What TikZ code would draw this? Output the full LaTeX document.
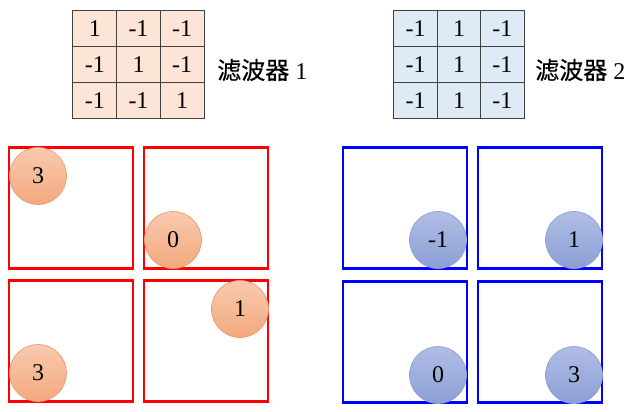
\documentclass[tikz,border=0pt]{standalone}
\usepackage{fontspec}
\setmainfont{Liberation Serif}
\newfontfamily\cjk[FakeBold=0.6]{Noto Sans CJK SC}
\definecolor{gridline}{HTML}{404040}
\definecolor{peach}{HTML}{FCE4D6}
\definecolor{ltblue}{HTML}{DEEBF7}
\definecolor{rtop}{HTML}{F8CAAE}
\definecolor{rbot}{HTML}{F3A97E}
\definecolor{rbord}{HTML}{E59A75}
\definecolor{btop}{HTML}{B0BEE4}
\definecolor{bbot}{HTML}{8C9FD6}
\definecolor{bbord}{HTML}{8FA1D2}
\tikzset{
  cell/.style={draw=gridline, line width=0.75pt, minimum width=32.75pt, minimum height=27.25pt, inner sep=0pt, font=\fontsize{18}{21}\selectfont},
  cellA/.style={cell, fill=peach},
  cellB/.style={cell, fill=ltblue},
  redbox/.style={draw=red, line width=2pt, minimum width=93pt, minimum height=90.75pt, inner sep=0pt},
  bluebox/.style={draw=blue, line width=2pt, minimum width=93pt, minimum height=90.75pt, inner sep=0pt},
  dot/.style={circle, minimum size=42.75pt, inner sep=0pt, line width=0.5pt, font=\fontsize{18}{21}\selectfont},
  reddot/.style={dot, draw=rbord, top color=rtop, bottom color=rbot},
  bluedot/.style={dot, draw=bbord, top color=btop, bottom color=bbot},
  lbl/.style={anchor=west, inner sep=0pt, font=\fontsize{18}{21}\selectfont}
}
\begin{document}
\begin{tikzpicture}[x=0.75pt, y=-0.75pt]
\useasboundingbox (0,0) rectangle (630,411);
% filter 1
\foreach \v [count=\i from 0] in {1,-1,-1,-1,1,-1,-1,-1,1}{
  \pgfmathtruncatemacro\c{mod(\i,3)}
  \pgfmathtruncatemacro\r{div(\i,3)}
  \node[cellA] (fa\i) at ({94.8+43.7*\c},{28.2+36.3*\r}) {\v};
}
\node[lbl] (la) at (217,70) {{\cjk 滤波器} 1};
% filter 2
\foreach \v [count=\i from 0] in {-1,1,-1,-1,1,-1,-1,1,-1}{
  \pgfmathtruncatemacro\c{mod(\i,3)}
  \pgfmathtruncatemacro\r{div(\i,3)}
  \node[cellB] (fb\i) at ({415.7+43.3*\c},{28.2+36.3*\r}) {\v};
}
\node[lbl] (lb) at (535,70) {{\cjk 滤波器} 2};
% red boxes
\node[redbox] (ra) at (71,208) {};
\node[redbox] (rb) at (206,208) {};
\node[redbox] (rc) at (71,341) {};
\node[redbox] (rd) at (206,341) {};
% blue boxes
\node[bluebox] (ba) at (405,208) {};
\node[bluebox] (bb) at (540,208) {};
\node[bluebox] (bc) at (405,342) {};
\node[bluebox] (bd) at (540,342) {};
% red dots
\node[reddot] (da) at (38,176) {3};
\node[reddot] (db) at (173,240) {0};
\node[reddot] (dc) at (38,373) {3};
\node[reddot] (dd) at (240,309) {1};
% blue dots
\node[bluedot] (ea) at (438,240) {-1};
\node[bluedot] (eb) at (574,240) {1};
\node[bluedot] (ec) at (438,375) {0};
\node[bluedot] (ed) at (574,375) {3};
\end{tikzpicture}
\end{document}
